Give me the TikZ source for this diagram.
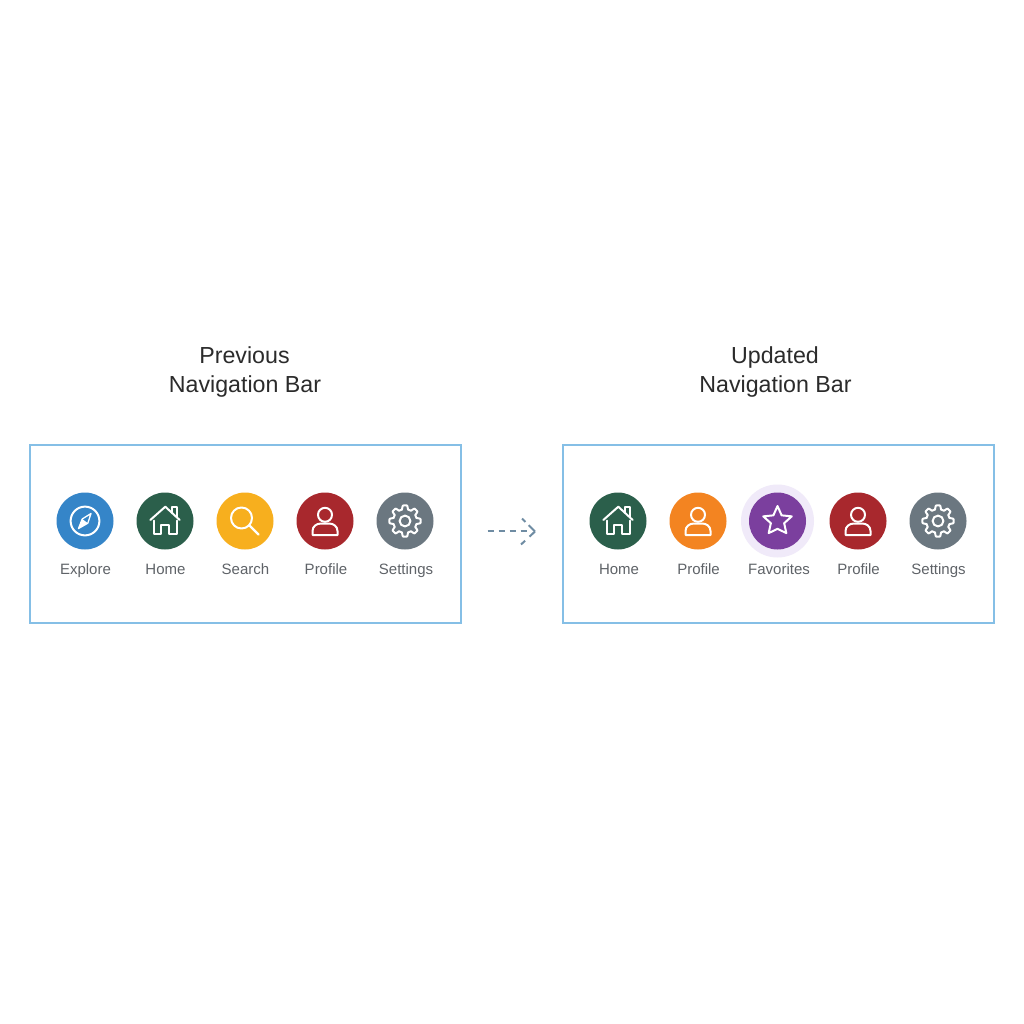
\documentclass[tikz,border=0pt]{standalone}
\usepackage{fontspec}
\setmainfont{Liberation Sans}
\usetikzlibrary{arrows.meta}
\definecolor{framec}{HTML}{85BFE6}
\definecolor{labelc}{HTML}{5F6368}
\definecolor{titlec}{HTML}{2B2B2B}
\definecolor{arrowc}{HTML}{6F8CA3}
\definecolor{cblue}{HTML}{3585C8}
\definecolor{cgreen}{HTML}{2B5F4B}
\definecolor{cyellow}{HTML}{F7AF1E}
\definecolor{cred}{HTML}{A8282D}
\definecolor{cgrey}{HTML}{6B7780}
\definecolor{corange}{HTML}{F38421}
\definecolor{cpurple}{HTML}{7B3F9E}
\definecolor{chalo}{HTML}{F0EAF9}
\tikzset{
  x=1pt,y=-1pt,
  frameb/.style={draw=framec,line width=2.4pt,fill=white},
  disc/.style={circle,minimum size=57pt,inner sep=0pt,fill=#1},
  halo/.style={circle,minimum size=73pt,inner sep=0pt,fill=chalo},
  lab/.style={font=\fontsize{15}{16}\selectfont,text=labelc,anchor=base},
  ttl/.style={font=\fontsize{23.2}{29}\selectfont,text=titlec,anchor=base},
  ico/.style={draw=white,line width=2pt,line join=round,line cap=round},
  pics/icompass/.style={code={
    \draw[ico] (0,0) circle (14.4);
    \draw[white,line width=1.3pt,line join=round] (6,-7.5) -- (2.8,2.2) -- (-6.5,7.5) -- (-2.8,-2) -- cycle;
    \fill[white] (2.8,2.2) -- (-6.5,7.5) -- (-2.8,-2) -- cycle;
  }},
  pics/ihouse/.style={code={
    \draw[ico] (-14.7,-1) -- (0.3,-14.3) -- (14.7,-1);
    \draw[ico] (7,-8.5) -- (7,-14.3) -- (12,-14.3) -- (12,-4);
    \draw[ico] (-11.3,-0.5) -- (-11.3,12.5) -- (-4,12.5) -- (-4,4) -- (4.3,4) -- (4.3,12.5) -- (11.5,12.5) -- (11.5,-0.5);
  }},
  pics/isearch/.style={code={
    \draw[ico] (-3.5,-3) circle (10.5);
    \draw[ico,line width=2.4pt] (4.2,4.2) -- (13.5,13.5);
  }},
  pics/iperson/.style={code={
    \draw[ico] (0,-6.2) circle (7);
    \draw[ico] (-12.5,14) -- (12.5,14) -- (12.5,10) .. controls (12.5,5) and (8,2.5) .. (4,2.5) -- (-4,2.5) .. controls (-8,2.5) and (-12.5,5) .. (-12.5,10) -- cycle;
  }},
  pics/igear/.style={code={
    \draw[ico,variable=\t,domain=0:360,samples=193]
      plot ({\t}:{11.8+1.9*(1+max(-1,min(1,2.2*cos(8*\t))))}) -- cycle;
    \draw[ico] (0,0) circle (5.4);
  }},
  pics/istar/.style={code={
    \draw[ico] (-90:15) -- (-54:7) -- (-18:15) -- (18:7) -- (54:15) -- (90:7.8) -- (126:15) -- (162:7) -- (198:15) -- (234:7) -- cycle;
  }},
}
\begin{document}
\begin{tikzpicture}
\useasboundingbox[fill=white] (0,0) rectangle (1024,1024);
% titles
\node[ttl] (t1a) at (244.5,363.5) {Previous};
\node[ttl] (t1b) at (245,392.5) {Navigation Bar};
\node[ttl] (t2a) at (775,363.5) {Updated};
\node[ttl] (t2b) at (775.5,392.5) {Navigation Bar};
% frames
\node[frameb,minimum width=431pt,minimum height=178pt,inner sep=0pt] (f1) at (245.5,534) {};
\node[frameb,minimum width=431pt,minimum height=178pt,inner sep=0pt] (f2) at (778.5,534) {};
% left icons
\node[disc=cblue] (a1) at (85,521) {};
\node[disc=cgreen] (a2) at (165,521) {};
\node[disc=cyellow] (a3) at (245,521) {};
\node[disc=cred] (a4) at (325,521) {};
\node[disc=cgrey] (a5) at (405,521) {};
\pic at (a1.center) {icompass};
\pic at (a2.center) {ihouse};
\pic at (a3.center) {isearch};
\pic at (a4.center) {iperson};
\pic at (a5.center) {igear};
\node[lab] (la1) at (85.5,574.5) {Explore};
\node[lab] (la2) at (165.5,574.5) {Home};
\node[lab] (la3) at (245.5,574.5) {Search};
\node[lab] (la4) at (326,574.5) {Profile};
\node[lab] (la5) at (406,574.5) {Settings};
% right icons
\node[halo] (h) at (777.5,521) {};
\node[disc=cgreen] (b1) at (618,521) {};
\node[disc=corange] (b2) at (698,521) {};
\node[disc=cpurple] (b3) at (777.5,521) {};
\node[disc=cred] (b4) at (858,521) {};
\node[disc=cgrey] (b5) at (938,521) {};
\pic at (b1.center) {ihouse};
\pic at (b2.center) {iperson};
\pic at (b3.center) {istar};
\pic at (b4.center) {iperson};
\pic at (b5.center) {igear};
\node[lab] (lb1) at (619,574.5) {Home};
\node[lab] (lb2) at (698.5,574.5) {Profile};
\node[lab] (lb3) at (779,574.5) {Favorites};
\node[lab] (lb4) at (858.5,574.5) {Profile};
\node[lab] (lb5) at (938.5,574.5) {Settings};
% arrow
\coordinate (as) at (487.5,531);
\coordinate (ae) at (527,531);
\coordinate (at) at (535,531.5);
\coordinate (au) at (522,518.5);
\coordinate (ad) at (521,544.5);
\draw[arrowc,line width=2pt,dash pattern=on 6pt off 5pt] (as) -- (ae);
\draw[arrowc,line width=2pt,dash pattern=on 9pt off 4.5pt] (at) -- (au);
\draw[arrowc,line width=2pt,dash pattern=on 7.5pt off 6pt] (at) -- (ad);
\end{tikzpicture}
\end{document}
